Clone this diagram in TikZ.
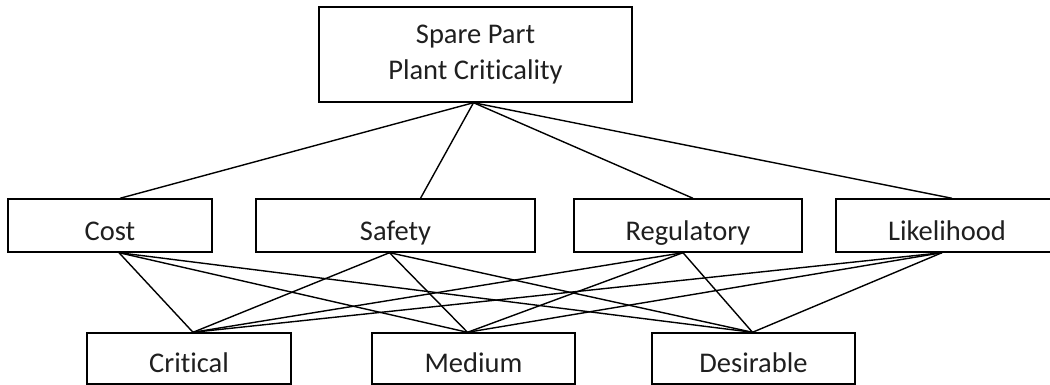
\documentclass[tikz,border=0pt]{standalone}
\usepackage{fontspec}
\setmainfont{Carlito}[RawFeature={-liga;-clig;-dlig}]
\begin{document}
\begin{tikzpicture}[x=1pt,y=-1pt,
  every node/.style={font=\fontsize{28.5}{36}\selectfont, text=black!88},
  midbox/.style={draw, line width=1.4pt, inner sep=0pt, anchor=base,
    text height=41pt, text depth=12pt},
  lowbox/.style={draw, line width=1.4pt, inner sep=0pt, anchor=base,
    text height=39pt, text depth=12pt},
  link/.style={line width=1.4pt}]
\useasboundingbox (0,0) rectangle (1050,385);

% goal
\node[draw, line width=1.4pt, minimum width=313pt, minimum height=95pt,
  align=center, inner sep=0pt] (goal) at (475.5,54.5) {Spare Part\\Plant Criticality};

% criteria
\node[midbox, minimum width=204pt] (cost) at (110,240) {Cost};
\node[midbox, minimum width=279pt] (safety) at (395.5,240) {Safety};
\node[midbox, minimum width=228pt] (reg) at (688,240) {Regulatory};
\node[midbox, minimum width=222pt] (like) at (947,240) {Likelihood};

% alternatives
\node[lowbox, minimum width=204pt] (crit) at (189,372) {Critical};
\node[lowbox, minimum width=203pt] (med) at (473.5,372) {Medium};
\node[lowbox, minimum width=203pt] (des) at (753.5,372) {Desirable};

% attachment points
\coordinate (apex) at ([xshift=-2pt]goal.south);
\coordinate (costT) at ([xshift=10pt]cost.north);
\coordinate (safetyT) at ([xshift=25pt]safety.north);
\coordinate (regT) at ([xshift=5pt]reg.north);
\coordinate (likeT) at ([xshift=5pt]like.north);
\coordinate (costB) at ([xshift=9pt]cost.south);
\coordinate (safetyB) at ([xshift=-6pt]safety.south);
\coordinate (regB) at ([xshift=-5pt]reg.south);
\coordinate (likeB) at ([xshift=-5pt]like.south);
\coordinate (critT) at ([xshift=4pt]crit.north);
\coordinate (medT) at ([xshift=-6pt]med.north);
\coordinate (desT) at ([xshift=-1pt]des.north);

% goal to criteria
\foreach \c in {costT,safetyT,regT,likeT}
  \draw[link] (apex) -- (\c);

% criteria to alternatives
\foreach \c in {costB,safetyB,regB,likeB}
  \foreach \a in {critT,medT,desT}
    \draw[link] (\c) -- (\a);
\end{tikzpicture}
\end{document}
